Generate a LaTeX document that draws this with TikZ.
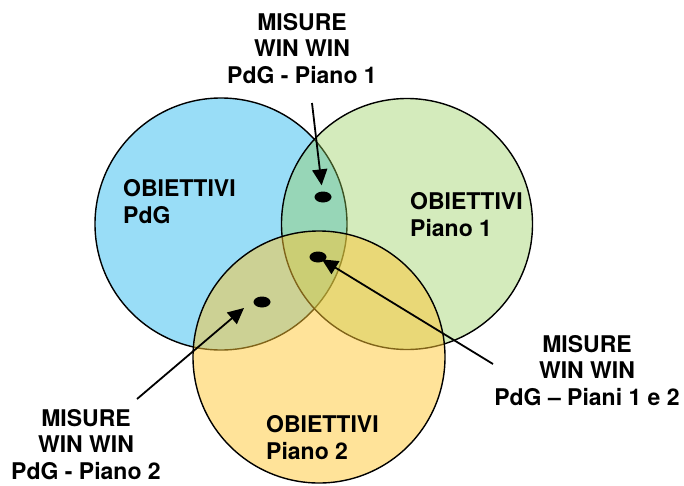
\documentclass[tikz,border=0pt]{standalone}
\usepackage{fontspec}
\setmainfont{TeX Gyre Heros}
\usetikzlibrary{arrows.meta,shapes.geometric}

\definecolor{pdgblue}{RGB}{153,221,247}
\definecolor{pianogreen}{RGB}{148,205,88}
\definecolor{pianoyellow}{RGB}{255,199,51}

% multi-line labels are placed by the baseline of their last line
\tikzset{
  setcircle/.style={draw=black, line width=1.4pt},
  lbl/.style={font=\bfseries\fontsize{23}{26.5}\selectfont, inner sep=0pt, anchor=base},
  misure/.style={lbl, align=center},
  goal/.style={lbl, align=left, anchor=base west},
  dot/.style={ellipse, fill=black, minimum width=17pt, minimum height=11pt, inner sep=0pt},
  pointer/.style={line width=1.8pt, -{Triangle[length=16pt,width=15pt]}}
}

\begin{document}
\begin{tikzpicture}[x=1pt, y=-1pt]
  \useasboundingbox (0,0) rectangle (684,485);

  % the three sets of objectives
  \fill[pdgblue] (221,224) circle (126);
  \draw[setcircle] (221,224) circle (126);
  \filldraw[setcircle, fill=pianogreen, fill opacity=0.4] (407,224) circle (125.5);
  \filldraw[setcircle, fill=pianoyellow, fill opacity=0.5] (319,357) circle (126);

  % circle titles
  \node[goal] (tpdg) at (123,223) {OBIETTIVI\\PdG};
  \node[goal] (tp1) at (410,236) {OBIETTIVI\\Piano 1};
  \node[goal] (tp2) at (266,459) {OBIETTIVI\\Piano 2};

  % win-win measures in the overlaps
  \node[dot] (d1) at (323,197) {};
  \node[dot] (d12) at (318,257) {};
  \node[dot] (d2) at (262,302) {};

  % callout labels
  \node[misure] (m1) at (302,83) {MISURE\\WIN WIN\\PdG - Piano 1};
  \node[misure] (m12) at (587,405) {MISURE\\WIN WIN\\PdG – Piani 1 e 2};
  \node[misure] (m2) at (86,479) {MISURE\\WIN WIN\\PdG - Piano 2};

  % arrow ends
  \coordinate (s1) at (312,103);
  \coordinate (s12) at (493,364);
  \coordinate (s2) at (137,399);
  \coordinate (t2) at (244,308);

  \draw[pointer, shorten >=6pt] (s1) -- (d1);
  \draw[pointer, shorten >=4.5pt] (s12) -- (d12.center);
  \draw[pointer] (s2) -- (t2);
\end{tikzpicture}
\end{document}
